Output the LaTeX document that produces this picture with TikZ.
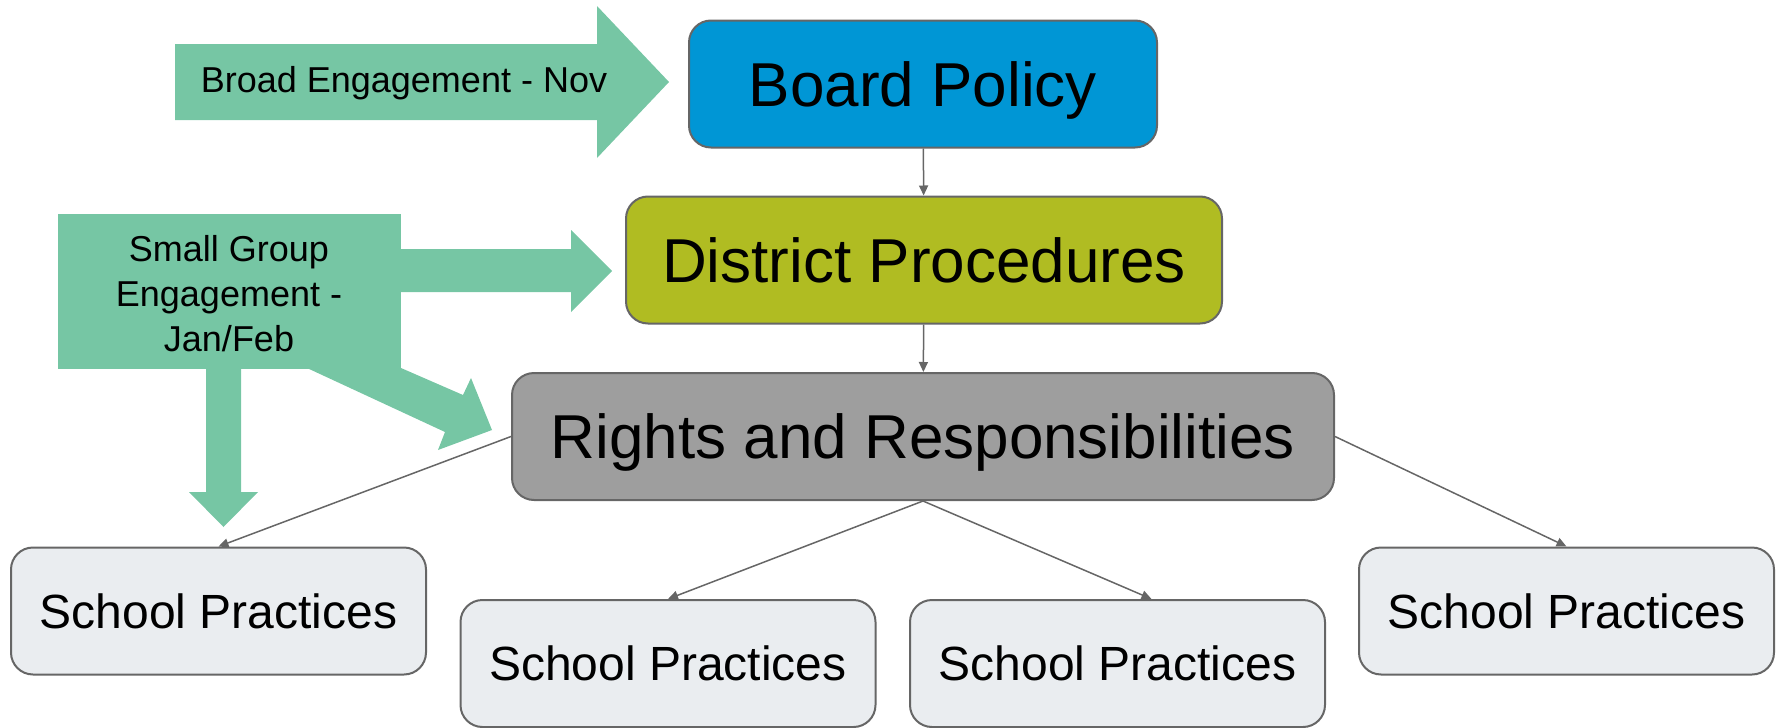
\documentclass[tikz,border=0pt]{standalone}
\usepackage{fontspec}
\setmainfont{Liberation Sans}
\usetikzlibrary{arrows.meta}
\definecolor{engagegreen}{RGB}{118,198,164}
\definecolor{policyblue}{RGB}{0,150,213}
\definecolor{procolive}{RGB}{176,188,34}
\definecolor{rightsgray}{RGB}{158,158,158}
\definecolor{schoolgray}{RGB}{234,237,240}
\definecolor{linegray}{RGB}{102,102,102}

\begin{document}
\begin{tikzpicture}
[x=0.5pt,y=-0.5pt%
,box/.style={draw=linegray,%
	line width=1pt,%
	rounded corners=11pt,%
	inner sep=0pt,%
	minimum height=63.5pt}%
,bigbox/.style={box,text depth=0pt,%
	font=\fontsize{31}{37}\selectfont}%
,schoolbox/.style={box,fill=schoolgray,%
	minimum width=207.5pt,%
	font=\fontsize{24}{29}\selectfont}%
,link/.style={draw=linegray,line width=0.75pt,%
	-{Triangle[length=5pt,width=4.5pt]}}%
,engagetext/.style={font=\fontsize{18}{22.5}\selectfont,%
	align=center}]
\useasboundingbox (0,0) rectangle (1779,728);
% engagement arrows
\fill[engagegreen] (175,44) -- (597,44) -- (597,6) -- (669,82) -- (597,158) -- (597,120) -- (175,120) -- cycle;
\fill[engagegreen] (58,214) rectangle (401,369);
\fill[engagegreen] (400,249) -- (571,249) -- (571,230) -- (612,271) -- (571,312) -- (571,292) -- (400,292) -- cycle;
\fill[engagegreen] (206,368) -- (206,492) -- (189,492) -- (223.5,527) -- (258,492) -- (241,492) -- (241,368) -- cycle;
\fill[engagegreen] (307,368) -- (445,432) -- (438,450) -- (492,430) -- (471,378) -- (463,395) -- (401,368) -- cycle;
\node[engagetext] (broad) at (404,83) {Broad Engagement - Nov};
\node[engagetext] (small) at (229,294) {Small Group\\Engagement -\\Jan/Feb};
% boxes
\node[bigbox,fill=policyblue,minimum width=234pt] (board) at (923,84) {Board Policy};
\node[bigbox,fill=procolive,minimum width=298pt] (district) at (924,260) {District Procedures};
\node[bigbox,fill=rightsgray,minimum width=411pt] (rights) at (923,436.5) {Rights and Responsibilities};
\node[schoolbox] (school1) at (218.5,611) {School Practices};
\node[schoolbox] (school2) at (668,663.5) {School Practices};
\node[schoolbox] (school3) at (1117.5,663.5) {School Practices};
\node[schoolbox] (school4) at (1566.5,611) {School Practices};
% links
\draw[link] (board) -- (district);
\draw[link] (district) -- (rights);
\draw[link] (rights.west) -- (school1.north);
\draw[link] (rights.south) -- (school2.north);
\draw[link] (rights.south) -- ([xshift=17pt]school3.north);
\draw[link] (rights.east) -- (school4.north);
\end{tikzpicture}
\end{document}
